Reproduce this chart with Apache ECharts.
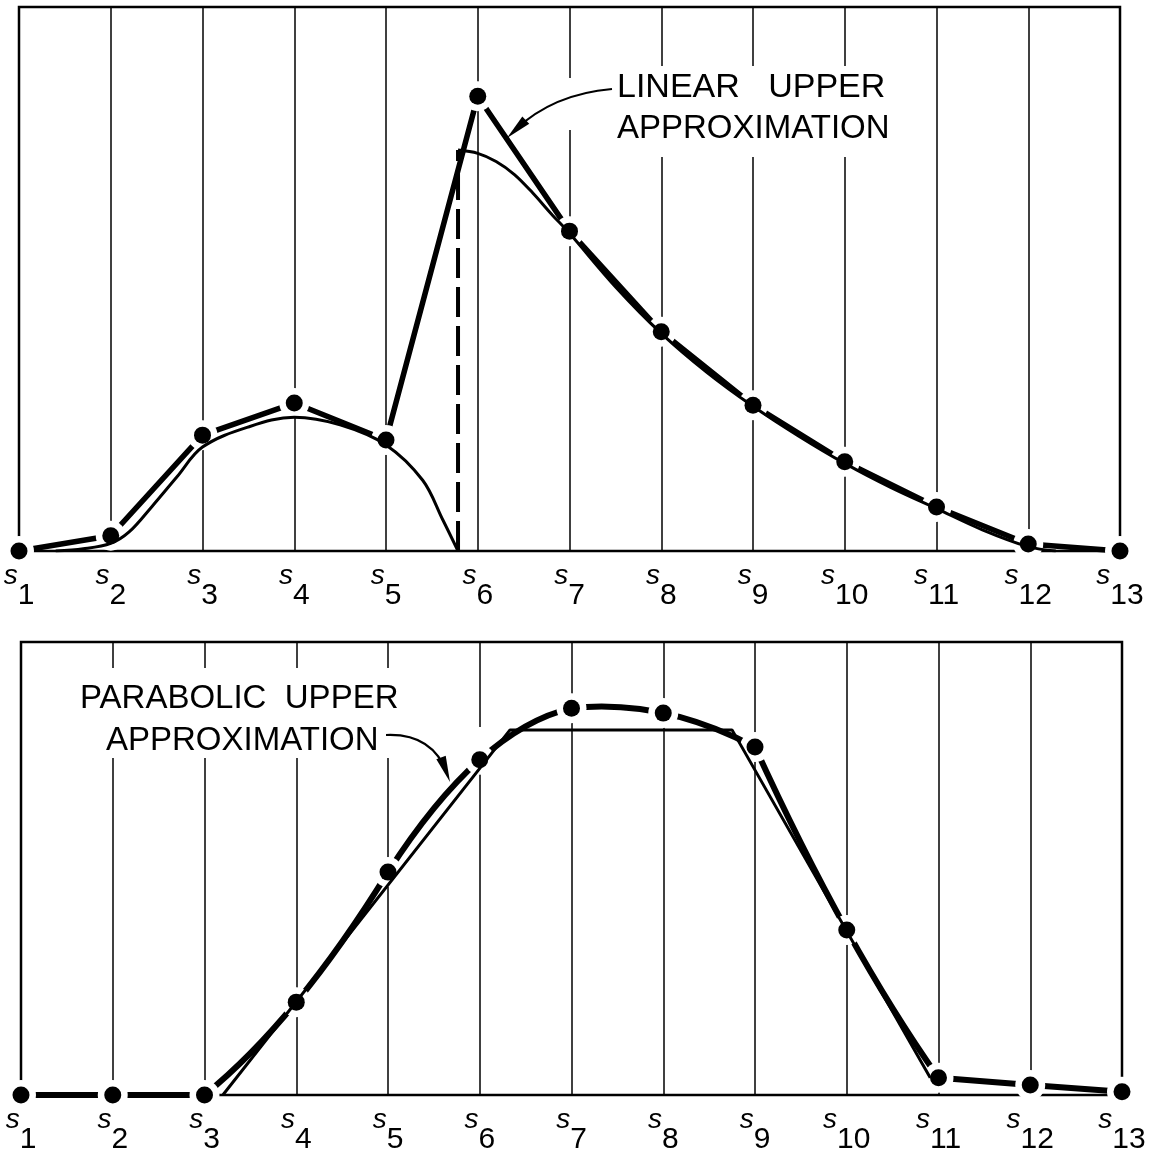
<!DOCTYPE html>
<html>
<head>
<meta charset="utf-8">
<script src="https://cdn.jsdelivr.net/npm/echarts@6/dist/echarts.min.js"></script>
<style>
  html, body { margin: 0; padding: 0; background: #fff; }
  #chart { width: 1153px; height: 1158px; }
</style>
</head>
<body>
<div id="chart"></div>
<script>
// Grid stations s1..s13 along the horizontal axis
const stations = [1, 2, 3, 4, 5, 6, 7, 8, 9, 10, 11, 12, 13];
const tickLabels = ['1', '2', '3', '4', '5', '6', '7', '8', '9', '10', '11', '12', '13'];

// Upper panel: nodal values of the linear upper approximation
const linearDots = [0, 2.8, 21.3, 27.2, 20.4, 83.6, 58.8, 40.3, 26.8, 16.4, 8.1, 1.3, 0];
// Upper panel: the exact function, left lobe (ends where it drops to zero)
const exactLeft = [[1.4, 0], [1.7, 0.4], [2, 1.4], [2.2, 3.5], [2.45, 8.2], [2.72, 13.6], [3, 19.1],
  [3.5, 22.8], [4, 24.6], [4.5, 23.2], [5, 19.5], [5.4, 13.0], [5.62, 5.7], [5.785, 0]];
// Upper panel: the exact function after the jump
const exactRight = [[5.785, 73.7], [6.0, 73.1], [6.2, 71.6], [6.4, 69.2], [6.6, 65.8], [6.8, 62.0],
  [7, 58.4], [7.5, 48.6], [8, 40.0], [8.5, 32.8], [9, 26.6], [9.5, 21.1], [10, 16.1],
  [10.5, 11.7], [11, 7.8], [11.5, 3.9], [12, 0.8], [12.3, 0]];

// Lower panel: nodal values of the parabolic upper approximation
const parabolicDots = [0, 0, 0, 20.5, 49.2, 74.0, 85.4, 84.3, 76.8, 36.4, 3.8, 2.2, 0.7];
// Lower panel: the exact (trapezoidal) function
const trapezoid = [[3.2, 0], [6.33, 80.6], [8.75, 80.6], [10.91, 3.8]];

const FONT = 'Liberation Sans';
const INK = '#000';

const pairs = (ys) => stations.map((x, i) => [x, ys[i]]);

// One parabola through each consecutive triple of nodes
const parabolaPieces = [];
for (let i = 0; i + 2 < stations.length; i += 2) {
  parabolaPieces.push([stations[i], parabolicDots[i], stations[i + 1], parabolicDots[i + 1],
    stations[i + 2], parabolicDots[i + 2]]);
}

function xAxisFor(gridIndex) {
  return {
    type: 'value', gridIndex, min: 1, max: 13, interval: 1,
    axisLine: { show: false }, axisTick: { show: false },
    splitLine: { show: true, lineStyle: { color: INK, width: 1.5 } },
    axisLabel: {
      show: true, margin: 10, hideOverlap: false, showMinLabel: true, showMaxLabel: true,
      formatter: (v) => {
        const i = stations.indexOf(v);
        return i < 0 ? '' : '{s|s}{n|' + tickLabels[i] + '}';
      },
      rich: {
        s: { fontFamily: FONT, fontStyle: 'italic', fontSize: 28, color: INK, padding: [0, 0, 20, 0] },
        n: { fontFamily: FONT, fontSize: 30, color: INK, padding: [20, 0, 0, 0] }
      }
    }
  };
}
function yAxisFor(gridIndex) {
  return {
    type: 'value', gridIndex, min: 0, max: 100,
    axisLine: { show: false }, axisTick: { show: false },
    splitLine: { show: false }, axisLabel: { show: false }
  };
}

const chart = echarts.init(document.getElementById('chart'), null, { renderer: 'canvas' });

const solid = (c) => ({ color: c, opacity: 1 });
// White discs that open a small gap in the heavy line around every node
const gapDiscs = (ys, xi) => ({
  type: 'scatter', xAxisIndex: xi, yAxisIndex: xi, z: 3, silent: true,
  data: pairs(ys), symbol: 'circle', symbolSize: 30, itemStyle: solid('#fff')
});
const nodeDots = (ys, xi) => ({
  type: 'scatter', xAxisIndex: xi, yAxisIndex: xi, z: 5, silent: true,
  data: pairs(ys), symbol: 'circle', symbolSize: 17, itemStyle: solid(INK)
});

const option = {
  animation: false,
  backgroundColor: '#fff',
  grid: [
    { left: 19, top: 7, width: 1101, height: 544, show: true, borderColor: INK, borderWidth: 2.5 },
    { left: 21, top: 642, width: 1101, height: 453, show: true, borderColor: INK, borderWidth: 2.5 }
  ],
  xAxis: [xAxisFor(0), xAxisFor(1)],
  yAxis: [yAxisFor(0), yAxisFor(1)],
  series: [
    // ---- upper panel ----
    {
      name: 'linear', type: 'line', xAxisIndex: 0, yAxisIndex: 0, z: 2, silent: true,
      data: pairs(linearDots), symbol: 'none',
      lineStyle: { color: INK, width: 5.5 }
    },
    gapDiscs(linearDots, 0),
    {
      name: 'exactLeft', type: 'line', xAxisIndex: 0, yAxisIndex: 0, z: 4, silent: true,
      data: exactLeft, smooth: 0.35, symbol: 'none',
      lineStyle: { color: INK, width: 3 }
    },
    {
      name: 'exactRight', type: 'line', xAxisIndex: 0, yAxisIndex: 0, z: 4, silent: true,
      data: exactRight, smooth: 0.35, symbol: 'none',
      lineStyle: { color: INK, width: 3 }
    },
    {
      name: 'jump', type: 'line', xAxisIndex: 0, yAxisIndex: 0, z: 4, silent: true,
      data: [[exactRight[0][0], 0], [exactRight[0][0], exactRight[0][1]]], symbol: 'none',
      lineStyle: { color: INK, width: 4, type: [30, 9] }
    },
    nodeDots(linearDots, 0),
    // ---- lower panel ----
    {
      name: 'parabolic', type: 'custom', xAxisIndex: 1, yAxisIndex: 1, z: 2, silent: true,
      data: parabolaPieces,
      encode: { x: [0, 2, 4], y: [1, 3, 5] },
      renderItem: (params, api) => {
        const p0 = api.coord([api.value(0), api.value(1)]);
        const p1 = api.coord([api.value(2), api.value(3)]);
        const p2 = api.coord([api.value(4), api.value(5)]);
        const cx = 2 * p1[0] - (p0[0] + p2[0]) / 2;
        const cy = 2 * p1[1] - (p0[1] + p2[1]) / 2;
        return {
          type: 'bezierCurve',
          shape: { x1: p0[0], y1: p0[1], x2: p2[0], y2: p2[1], cpx1: cx, cpy1: cy },
          style: { stroke: INK, lineWidth: 6, fill: null }
        };
      }
    },
    gapDiscs(parabolicDots, 1),
    {
      name: 'trapezoid', type: 'line', xAxisIndex: 1, yAxisIndex: 1, z: 4, silent: true,
      data: trapezoid, symbol: 'none', lineStyle: { color: INK, width: 3 }
    },
    nodeDots(parabolicDots, 1)
  ]
};
chart.setOption(option);

// Annotations: lettering on white patches, with curved leader arrows
function arrowHead(tip, from, len, half) {
  const dx = tip[0] - from[0], dy = tip[1] - from[1];
  const d = Math.hypot(dx, dy), ux = dx / d, uy = dy / d;
  const bx = tip[0] - ux * len, by = tip[1] - uy * len;
  return [[tip[0], tip[1]], [bx - uy * half, by + ux * half], [bx + uy * half, by - ux * half]];
}
const lettering = (text, x, y, size) => ({
  type: 'text', x, y, z: 10, silent: true,
  style: { text, fontFamily: FONT, fontSize: size, fill: INK, textVerticalAlign: 'middle', textAlign: 'left' }
});
const topTip = [507, 138], topCp = [553, 94];
const botTip = [450, 782], botCp = [432, 733];

chart.setOption({
  graphic: { elements: [
    { type: 'rect', z: 1, silent: true, shape: { x: 598, y: 66, width: 308, height: 91 }, style: { fill: '#fff' } },
    { type: 'rect', z: 1, silent: true, shape: { x: 556, y: 78, width: 40, height: 52 }, style: { fill: '#fff' } },
    { type: 'rect', z: 1, silent: true, shape: { x: 70, y: 668, width: 340, height: 90 }, style: { fill: '#fff' } },
    { type: 'rect', z: 1, silent: true, shape: { x: 470, y: 727, width: 12, height: 22 }, style: { fill: '#fff' } },
    lettering('LINEAR   UPPER', 617, 88, 34),
    lettering('APPROXIMATION', 617, 129, 33),
    lettering('PARABOLIC  UPPER', 80, 699, 33),
    lettering('APPROXIMATION', 106, 741, 33),
    { type: 'bezierCurve', z: 10, silent: true,
      shape: { x1: 612, y1: 89, cpx1: topCp[0], cpy1: topCp[1], x2: topTip[0] + 8, y2: topTip[1] - 8 },
      style: { stroke: INK, lineWidth: 2.2, fill: null } },
    { type: 'polygon', z: 10, silent: true, shape: { points: arrowHead(topTip, topCp, 26, 5) }, style: { fill: INK } },
    { type: 'bezierCurve', z: 10, silent: true,
      shape: { x1: 386, y1: 735, cpx1: botCp[0], cpy1: botCp[1], x2: botTip[0] - 3, y2: botTip[1] - 9 },
      style: { stroke: INK, lineWidth: 2.2, fill: null } },
    { type: 'polygon', z: 10, silent: true, shape: { points: arrowHead(botTip, botCp, 26, 5) }, style: { fill: INK } }
  ] }
});
</script>
</body>
</html>
